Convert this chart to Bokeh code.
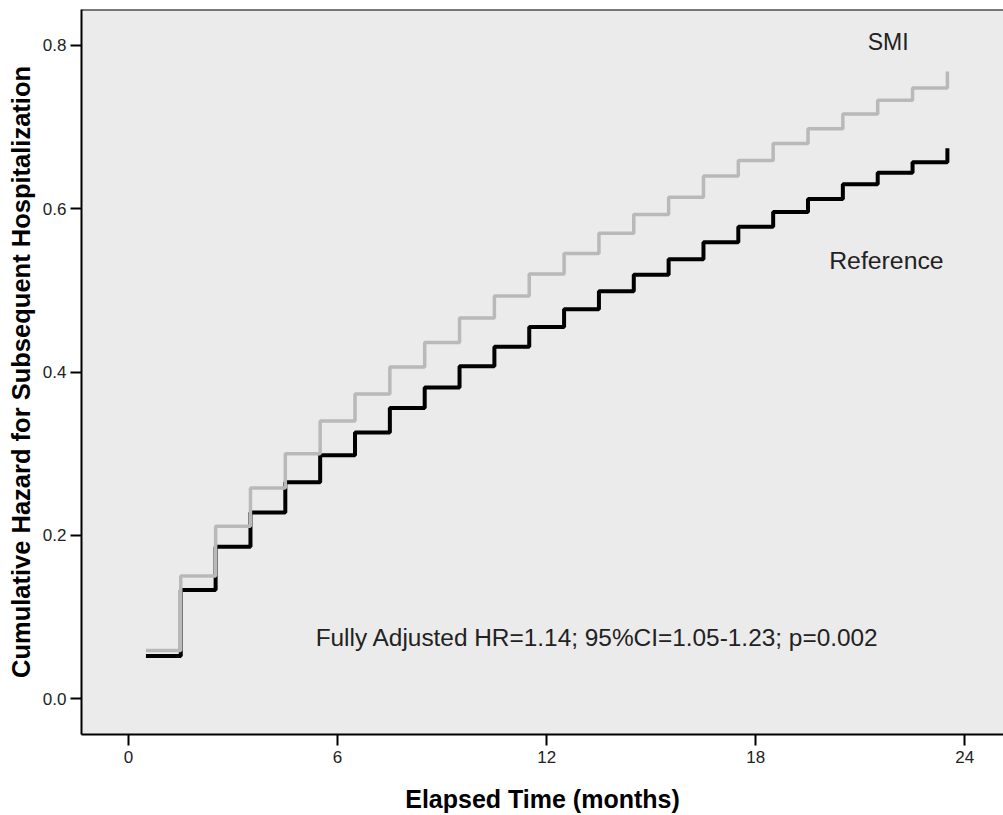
from bokeh.plotting import figure
from bokeh.models import Range1d, FixedTicker, Span, Label
from bokeh.embed import file_html
from bokeh.resources import INLINE

# Data: cumulative hazard at monthly steps (step after each time)
times = [0.5, 1.5, 2.5, 3.5, 4.5, 5.5, 6.5, 7.5, 8.5, 9.5, 10.5, 11.5,
         12.5, 13.5, 14.5, 15.5, 16.5, 17.5, 18.5, 19.5, 20.5, 21.5, 22.5, 23.5]
reference = [0.052, 0.133, 0.186, 0.228, 0.265, 0.298, 0.326, 0.356, 0.381, 0.407,
             0.431, 0.455, 0.477, 0.499, 0.519, 0.538, 0.559, 0.578, 0.596, 0.612,
             0.630, 0.644, 0.657, 0.674]
smi = [0.059, 0.150, 0.211, 0.258, 0.300, 0.340, 0.373, 0.406, 0.436, 0.466,
       0.493, 0.520, 0.545, 0.570, 0.593, 0.614, 0.640, 0.659, 0.680, 0.698,
       0.716, 0.733, 0.748, 0.768]
x_ticks = [0, 6, 12, 18, 24]
y_ticks = [0.0, 0.2, 0.4, 0.6, 0.8]
y_tick_labels = {0.0: "0.0", 0.2: "0.2", 0.4: "0.4", 0.6: "0.6", 0.8: "0.8"}

FONT = "Liberation Sans"

p = figure(width=1003, height=815, output_backend="svg", toolbar_location=None,
           x_range=Range1d(-1.349, 25.11), y_range=Range1d(-0.044, 0.844),
           min_border_left=81, min_border_top=9, min_border_right=0,
           min_border_bottom=80)

p.background_fill_color = "#EBEBEB"
p.border_fill_color = "white"
p.outline_line_color = None
p.grid.visible = False

for ax in (p.xaxis[0], p.yaxis[0]):
    ax.axis_line_color = "black"
    ax.axis_line_width = 2
    ax.major_tick_line_color = "black"
    ax.major_tick_line_width = 2
    ax.major_tick_out = 11
    ax.major_tick_in = 0
    ax.minor_tick_line_color = None
    ax.major_label_text_font = FONT
    ax.major_label_text_font_size = "17px"
    ax.major_label_text_color = "#222222"
    ax.axis_label_text_font = FONT
    ax.axis_label_text_font_style = "bold"
    ax.axis_label_text_color = "black"

p.xaxis.axis_label_text_font_size = "25px"
p.yaxis.axis_label_text_font_size = "25.5px"
p.xaxis.ticker = FixedTicker(ticks=x_ticks)
p.yaxis.ticker = FixedTicker(ticks=y_ticks)
p.yaxis.major_label_overrides = y_tick_labels
p.xaxis.axis_label = "Elapsed Time (months)"
p.yaxis.axis_label = "Cumulative Hazard for Subsequent Hospitalization"
p.xaxis.major_label_standoff = 5
p.xaxis.axis_label_standoff = 19
p.yaxis.major_label_standoff = 4
p.yaxis.axis_label_standoff = 5

# top border of frame
p.add_layout(Span(location=0.844, dimension="width", line_color="black", line_width=2))

p.step(times, reference, mode="after", line_color="black", line_width=4)
p.step(times, smi, mode="after", line_color="#B9B9B9", line_width=3.5)

p.add_layout(Label(x=21.8, y=0.804, text="SMI", text_font=FONT, text_font_size="23px",
                   text_align="center", text_baseline="middle", text_color="#222222"))
p.add_layout(Label(x=21.75, y=0.537, text="Reference", text_font=FONT, text_font_size="24.8px",
                   text_align="center", text_baseline="middle", text_color="#222222"))
p.add_layout(Label(x=5.37, y=0.0746, text="Fully Adjusted HR=1.14; 95%CI=1.05-1.23; p=0.002",
                   text_font=FONT, text_font_size="24.4px",
                   text_align="left", text_baseline="middle", text_color="#222222"))

open("out.html", "w").write(file_html(p, INLINE))
